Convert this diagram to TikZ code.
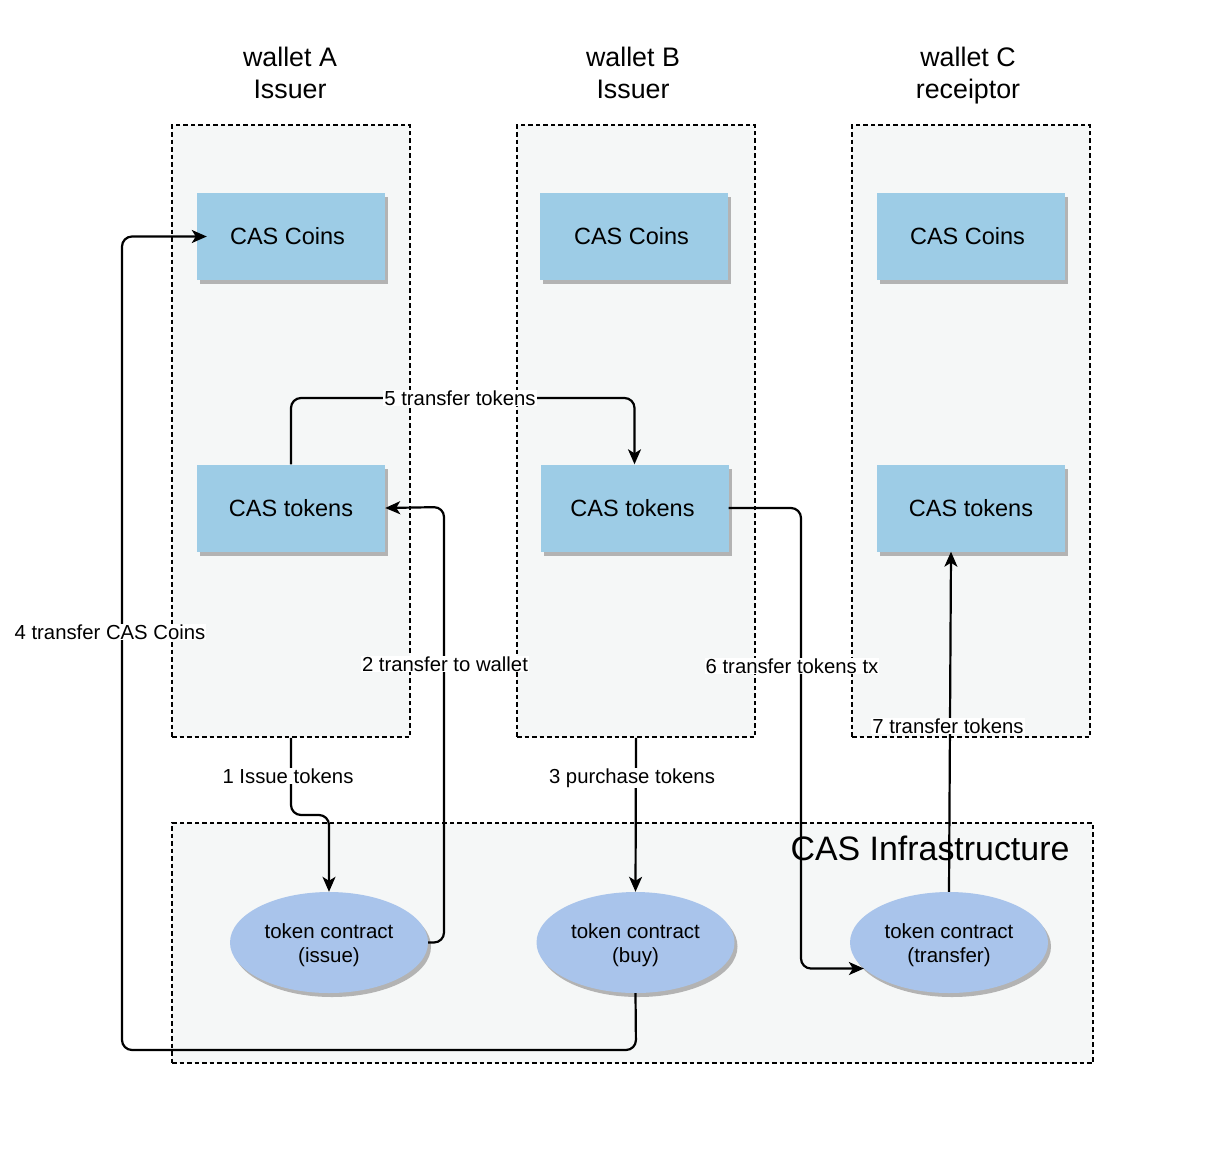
\documentclass[tikz,border=0pt]{standalone}
\usepackage{fontspec}
\setmainfont{Liberation Sans}
\usetikzlibrary{arrows.meta,shapes.geometric,shadows,calc}
\definecolor{boxblue}{HTML}{9DCCE6}
\definecolor{ellblue}{HTML}{A9C4EB}
\definecolor{contfill}{HTML}{F5F7F7}
\definecolor{shgrey}{HTML}{B3B3B3}
\tikzset{
  container/.style={draw=black, fill=contfill, line width=1.6pt, dash pattern=on 4.5pt off 3pt},
  casbox/.style={fill=boxblue, minimum width=188pt, minimum height=87pt, inner sep=0pt,
    drop shadow={shadow xshift=3pt, shadow yshift=-4pt, opacity=1, fill=shgrey},
    font=\fontsize{23.5}{28}\selectfont},
  contract/.style={ellipse, fill=ellblue, minimum width=198pt, minimum height=101pt, inner sep=0pt,
    drop shadow={shadow xshift=3pt, shadow yshift=-4pt, opacity=1, fill=shgrey},
    align=center, font=\fontsize{20.5}{24}\selectfont},
  title/.style={align=center, font=\fontsize{26.8}{32}\selectfont},
  conn/.style={draw=black, line width=2.2pt, rounded corners=10pt,
    -{Stealth[length=15pt, width=13pt, inset=4pt]}},
  lbl/.style={fill=white, inner sep=1pt, font=\fontsize{20.3}{24}\selectfont}
}
\begin{document}
\begin{tikzpicture}[x=1pt, y=-1pt]
\useasboundingbox[fill=white] (0,0) rectangle (1212,1160);

% containers
\node[container, minimum width=238pt, minimum height=612pt] (wA) at (291,431) {};
\node[container, minimum width=238pt, minimum height=612pt] (wB) at (636,431) {};
\node[container, minimum width=238pt, minimum height=612pt] (wC) at (971,431) {};
\node[container, minimum width=921pt, minimum height=240pt] (infra) at (632.5,943) {};

% titles
\node[title] (tA) at (290,73) {wallet A\\Issuer};
\node[title] (tB) at (633,73) {wallet B\\Issuer};
\node[title] (tC) at (968,76) {wallet C\\receiptor};
\node[font=\fontsize{33.9}{40}\selectfont] (tinfra) at (930,848) {CAS Infrastructure};

% boxes
\node[casbox] (coinsA) at (291,236.5) {\hspace*{-7pt}CAS Coins};
\node[casbox] (coinsB) at (634,236.5) {\hspace*{-5pt}CAS Coins};
\node[casbox] (coinsC) at (971,236.5) {\hspace*{-7pt}CAS Coins};
\node[casbox] (tokensA) at (291,508) {CAS tokens};
\node[casbox] (tokensB) at (634.5,508) {\hspace*{-4pt}CAS tokens};
\node[casbox] (tokensC) at (971,508) {CAS tokens};

% contracts
\node[contract] (issue) at (329,942.5) {\rule{0pt}{21pt}token contract\\(issue)};
\node[contract] (buy) at (635.5,942.5) {\rule{0pt}{21pt}token contract\\(buy)};
\node[contract] (transfer) at (949,942.5) {\rule{0pt}{21pt}token contract\\(transfer)};

% connectors
\draw[conn] (wA.south) -- (291,815) -- (329,815) -- (issue.north);
\node[lbl] (l1) at (288,776) {1 Issue tokens};

\draw[conn] (issue.east) -- (444,942.5) -- (444,507) -- (tokensA.east);
\node[lbl] (l2) at (445,664) {2 transfer to wallet};

\draw[conn] (wB.south) -- (buy.north);
\node[lbl] (l3) at (632,778) {3 purchase tokens};

\draw[conn] (buy.south) -- (636,1050) -- (122,1050) -- (122,236.5) -- ([xshift=10pt]coinsA.west);
\node[lbl] (l4) at (110,632) {4 transfer CAS Coins};

\draw[conn] (tokensA.north) -- (291,398) -- (634.5,398) -- (tokensB.north);
\node[lbl] (l5) at (460,398) {5 transfer tokens};

\draw[conn] (tokensB.east) -- (801,508) |- (transfer.197);
\node[lbl] (l6) at (792,666) {6 transfer tokens tx};

\draw[conn] (transfer.north) -- ([xshift=-20pt]tokensC.south);
\node[lbl] (l7) at (948,726) {7 transfer tokens};
\end{tikzpicture}
\end{document}
